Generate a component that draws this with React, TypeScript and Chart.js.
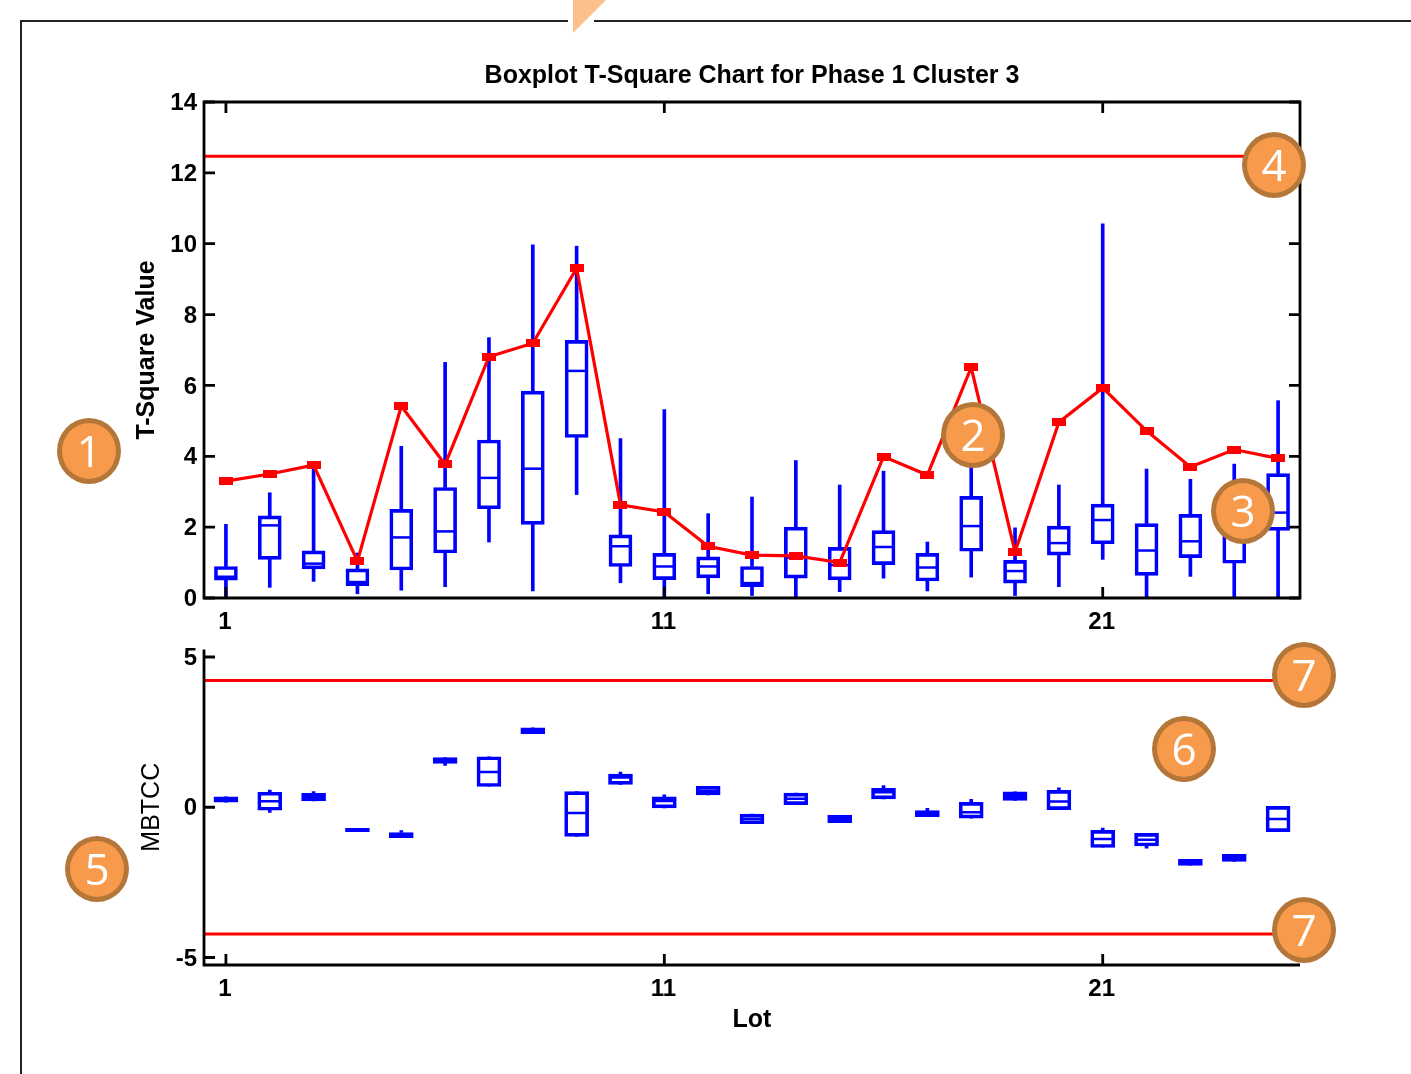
import React, { useEffect, useRef } from "react";
import { Chart, registerables } from "chart.js";

Chart.register(...registerables);

const lots = [1,2,3,4,5,6,7,8,9,10,11,12,13,14,15,16,17,18,19,20,21,22,23,24,25];
const xTickValues = [1, 11, 21];

const tMin = [0,0.3,0.47,0.12,0.22,0.32,1.58,0.2,2.92,0.43,0,0.12,0.07,0,0.18,0.56,0.2,0.59,0.07,0.32,1.09,0,0.61,0,0];
const tQ1 = [0.5,1.09,0.82,0.35,0.79,1.27,2.52,2.08,4.53,0.89,0.52,0.57,0.32,0.56,0.51,0.94,0.48,1.32,0.42,1.21,1.53,0.64,1.14,0.98,1.91];
const tMedian = [0.6,2.05,0.97,0.45,1.71,1.88,3.39,3.65,6.41,1.46,0.89,0.89,0.42,1.14,0.93,1.44,0.86,2.03,0.76,1.55,2.2,1.34,1.6,1.8,2.41];
const tQ3 = [0.89,2.32,1.33,0.82,2.5,3.12,4.46,5.84,7.27,1.78,1.26,1.16,0.89,2.0,1.43,1.9,1.26,2.87,1.06,2.03,2.65,2.1,2.36,2.6,3.51];
const tMax = [2.08,2.97,3.81,1.27,4.28,6.65,7.35,9.97,9.93,4.5,5.32,2.38,2.85,3.88,3.19,3.58,1.58,4.0,1.98,3.19,10.56,3.64,3.35,3.78,5.57];
const tSquare = [3.3,3.5,3.75,1.04,5.42,3.77,6.81,7.19,9.31,2.63,2.43,1.46,1.21,1.19,1.0,3.99,3.47,6.51,1.3,4.96,5.93,4.72,3.7,4.19,3.94];
const tLimit = 12.47;
const tYTicks = [0,2,4,6,8,10,12,14];

const mMin = [0.17,-0.17,0.21,-0.81,-1.01,1.39,0.69,2.45,-0.97,0.76,-0.02,0.41,-0.55,0.09,-0.51,0.28,-0.31,-0.36,0.23,-0.08,-1.34,-1.36,-1.94,-1.8,-0.81];
const mQ1 = [0.17,-0.1,0.21,-0.81,-1.01,1.46,0.69,2.45,-0.97,0.76,-0.02,0.41,-0.55,0.09,-0.51,0.28,-0.31,-0.36,0.23,-0.08,-1.34,-1.29,-1.94,-1.8,-0.81];
const mMedian = [0.26,0.2,0.33,-0.76,-0.93,1.55,1.17,2.55,-0.19,0.99,0.21,0.55,-0.39,0.28,-0.39,0.5,-0.21,-0.17,0.37,0.19,-1.06,-1.08,-1.84,-1.69,-0.39];
const mQ3 = [0.35,0.5,0.46,-0.7,-0.84,1.65,1.68,2.64,0.52,1.1,0.35,0.7,-0.23,0.47,-0.27,0.63,-0.11,0.16,0.51,0.56,-0.77,-0.87,-1.73,-1.57,0.03];
const mMax = [0.35,0.57,0.52,-0.7,-0.78,1.65,1.68,2.64,0.52,1.17,0.41,0.7,-0.23,0.47,-0.27,0.72,-0.04,0.26,0.51,0.65,-0.69,-0.87,-1.73,-1.57,0.03];
const mUpperLimit = 4.22;
const mLowerLimit = -4.22;
const mYTicks = [-5, 0, 5];

const chartTitle = "Boxplot T-Square Chart for Phase 1 Cluster 3";
const topYLabel = "T-Square Value";
const bottomYLabel = "MBTCC";
const bottomXLabel = "Lot";

const callouts = [
  { text: "1", x: 89, y: 451 },
  { text: "2", x: 973, y: 435 },
  { text: "3", x: 1243, y: 511 },
  { text: "4", x: 1274, y: 165 },
  { text: "5", x: 97, y: 869 },
  { text: "6", x: 1184, y: 749 },
  { text: "7", x: 1304, y: 675 },
  { text: "7", x: 1304, y: 930 },
];

const BLUE = "#0000ff";
const RED = "#ff0000";
const FONT = "'Liberation Sans', Arial, sans-serif";

function boxDatasets(min: number[], q1: number[], med: number[], q3: number[], max: number[], boxWidth: number) {
  const whisker = { type: "bar", backgroundColor: BLUE, borderWidth: 0, barThickness: 3, grouped: false, order: 5 };
  return [
    { ...whisker, data: lots.map((x, i) => ({ x, y: [q3[i], max[i]] })) },
    { ...whisker, data: lots.map((x, i) => ({ x, y: [min[i], q1[i]] })) },
    {
      type: "bar",
      data: lots.map((x, i) => ({ x, y: [q1[i], q3[i]] })),
      backgroundColor: "rgba(0,0,0,0)",
      borderColor: BLUE,
      borderWidth: 3,
      borderSkipped: false,
      barThickness: boxWidth,
      grouped: false,
      order: 4,
    },
    {
      type: "line",
      data: lots.map((x, i) => ({ x, y: med[i] })),
      showLine: false,
      pointStyle: "line",
      pointRadius: boxWidth / 2 - 1,
      pointBorderWidth: 2.5,
      pointBorderColor: BLUE,
      order: 3,
    },
  ];
}

function limitDataset(value: number) {
  return {
    type: "line",
    data: [{ x: 0.5, y: value }, { x: 25.5, y: value }],
    borderColor: RED,
    borderWidth: 3,
    pointRadius: 0,
    order: 1,
  };
}

function axesPlugin(full: boolean) {
  return {
    id: "matlabAxes",
    afterDatasetsDraw(chart: any) {
      const { ctx, chartArea: a, scales } = chart;
      const len = 11;
      ctx.save();
      ctx.strokeStyle = "#000";
      ctx.lineWidth = 2.8;
      ctx.beginPath();
      ctx.moveTo(a.left, a.top);
      ctx.lineTo(a.left, a.bottom);
      ctx.lineTo(a.right, a.bottom);
      if (full) {
        ctx.lineTo(a.right, a.top);
        ctx.closePath();
      }
      ctx.stroke();
      ctx.beginPath();
      for (const t of scales.x.ticks) {
        const px = scales.x.getPixelForValue(t.value);
        ctx.moveTo(px, a.bottom);
        ctx.lineTo(px, a.bottom - len);
        if (full) {
          ctx.moveTo(px, a.top);
          ctx.lineTo(px, a.top + len);
        }
      }
      for (const t of scales.y.ticks) {
        const py = scales.y.getPixelForValue(t.value);
        ctx.moveTo(a.left, py);
        ctx.lineTo(a.left + len, py);
        if (full) {
          ctx.moveTo(a.right, py);
          ctx.lineTo(a.right - len, py);
        }
      }
      ctx.stroke();
      ctx.restore();
    },
  };
}

function baseScales(
  yMin: number,
  yMax: number,
  yTicks: number[],
  yLabel: string,
  yLabelWeight: string,
  yWidth: number,
  xHeight: number,
  xLabel?: string
) {
  return {
    x: {
      type: "linear",
      min: 0.5,
      max: 25.5,
      offset: false,
      border: { display: false },
      grid: { display: false, drawTicks: false },
      afterBuildTicks: (s: any) => {
        s.ticks = xTickValues.map((value) => ({ value }));
      },
      afterFit: (s: any) => {
        s.height = xHeight;
        s.paddingLeft = 0;
        s.paddingRight = 0;
      },
      ticks: {
        autoSkip: false,
        maxRotation: 0,
        padding: 10,
        labelOffset: -1,
        color: "#000",
        font: { family: FONT, size: 24, weight: "bold" },
        callback: (v: any) => String(v),
      },
      title: xLabel
        ? { display: true, text: xLabel, color: "#000", padding: 0, font: { family: FONT, size: 25, weight: "bold" } }
        : { display: false },
    },
    y: {
      type: "linear",
      min: yMin,
      max: yMax,
      border: { display: false },
      grid: { display: false, drawTicks: false },
      afterBuildTicks: (s: any) => {
        s.ticks = yTicks.map((value) => ({ value }));
      },
      afterFit: (s: any) => {
        s.width = yWidth;
        s.paddingTop = 0;
        s.paddingBottom = 0;
      },
      ticks: {
        autoSkip: false,
        padding: 7,
        labelOffset: 1.5,
        color: "#000",
        font: { family: FONT, size: 24, weight: "bold" },
        callback: (v: any) => String(v),
      },
      title: {
        display: true,
        text: yLabel,
        color: "#000",
        padding: 0,
        font: { family: FONT, size: 25, weight: yLabelWeight },
      },
    },
  };
}

function redMarker() {
  const c = document.createElement("canvas");
  c.width = 14;
  c.height = 8;
  const g = c.getContext("2d")!;
  g.fillStyle = RED;
  g.fillRect(0, 0, 14, 8);
  return c;
}

export default function App() {
  const topRef = useRef<HTMLCanvasElement>(null);
  const bottomRef = useRef<HTMLCanvasElement>(null);

  useEffect(() => {
    const top = new Chart(topRef.current!, {
      type: "bar",
      data: {
        datasets: [
          ...boxDatasets(tMin, tQ1, tMedian, tQ3, tMax, 23),
          {
            type: "line",
            data: lots.map((x, i) => ({ x, y: tSquare[i] })),
            borderColor: RED,
            borderWidth: 3.2,
            tension: 0,
            pointStyle: redMarker(),
            pointBackgroundColor: RED,
            order: 2,
          },
          limitDataset(tLimit),
        ] as any,
      },
      options: {
        animation: false,
        responsive: false,
        events: [],
        layout: { padding: { left: 132, right: 111, top: 61, bottom: 0 } },
        plugins: {
          legend: { display: false },
          tooltip: { enabled: false },
          title: {
            display: true,
            text: chartTitle,
            color: "#000",
            fullSize: false,
            padding: { top: 0, bottom: 11 },
            font: { family: FONT, size: 25, weight: "bold" },
          },
        },
        scales: baseScales(0, 14, tYTicks, topYLabel, "bold", 72, 42) as any,
      },
      plugins: [axesPlugin(true)],
    } as any);

    const bottom = new Chart(bottomRef.current!, {
      type: "bar",
      data: {
        datasets: [
          ...boxDatasets(mMin, mQ1, mMedian, mQ3, mMax, 24),
          limitDataset(mUpperLimit),
          limitDataset(mLowerLimit),
        ] as any,
      },
      options: {
        animation: false,
        responsive: false,
        events: [],
        layout: { padding: { left: 137, right: 111, top: 8, bottom: 39 } },
        plugins: { legend: { display: false }, tooltip: { enabled: false } },
        scales: baseScales(-5.25, 5.25, mYTicks, bottomYLabel, "normal", 67, 70, bottomXLabel) as any,
      },
      plugins: [axesPlugin(false)],
    } as any);

    return () => {
      top.destroy();
      bottom.destroy();
    };
  }, []);

  return (
    <div style={{ position: "absolute", left: 0, top: 0, width: 1411, height: 1074, overflow: "hidden", background: "#fff" }}>
      <div style={{ position: "absolute", left: 20, top: 19.5, width: 1391, height: 2, background: "#222" }} />
      <div style={{ position: "absolute", left: 19.5, top: 20, width: 2, height: 1054, background: "#222" }} />
      <div style={{ position: "absolute", left: 568, top: 15, width: 26, height: 10, background: "#fff" }} />
      <div
        style={{
          position: "absolute",
          left: 573,
          top: 0,
          width: 33,
          height: 33,
          background: "#fbc08c",
          clipPath: "polygon(0 0, 100% 0, 0 100%)",
        }}
      />
      <canvas ref={topRef} width={1411} height={640} style={{ position: "absolute", left: 0, top: 0, filter: "blur(0.5px)" }} />
      <canvas ref={bottomRef} width={1411} height={438} style={{ position: "absolute", left: 0, top: 636, filter: "blur(0.5px)" }} />
      {callouts.map((c, i) => (
        <div
          key={i}
          style={{
            position: "absolute",
            left: c.x - 32,
            top: c.y - 33,
            width: 64,
            height: 66,
            boxSizing: "border-box",
            borderRadius: "50%",
            background: "#f79a4b",
            border: "5px solid #b5763a",
            color: "#fff",
            fontFamily: "'Open Sans', sans-serif",
            fontSize: 44,
            lineHeight: "54px",
            textAlign: "center",
          }}
        >
          {c.text}
        </div>
      ))}
    </div>
  );
}
